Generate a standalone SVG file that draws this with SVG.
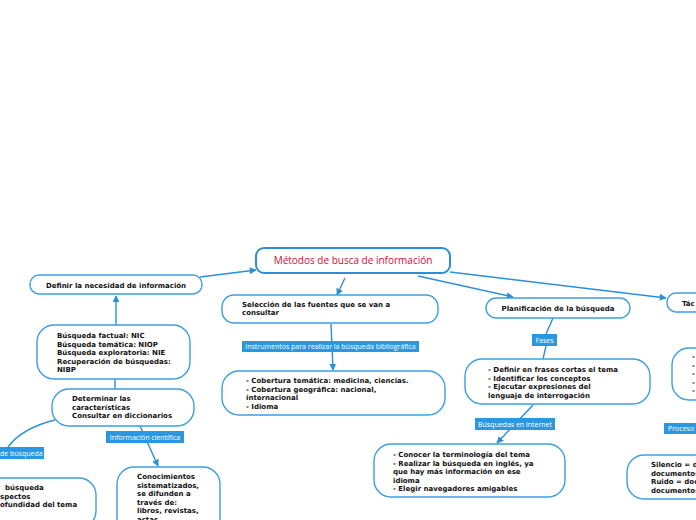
<svg xmlns="http://www.w3.org/2000/svg" width="696" height="520" viewBox="0 0 696 520">
<style>
.n{fill:#fff;stroke:#3d9ee2;stroke-width:1.4}
.c{fill:#fff;stroke:#2b8fd8;stroke-width:2}
.t{font-family:"DejaVu Sans",Verdana,sans-serif;font-weight:bold;font-size:7px;fill:#111}
.ti{font-family:"Open Sans","Noto Sans",sans-serif;font-size:10px;fill:#cc1133}
.lb{fill:#2b97e0}
.lt{font-family:"Open Sans","Noto Sans",sans-serif;font-size:7px;fill:#fff}
.e{fill:none;stroke:#2b8fd8;stroke-width:1.4}
</style>
<defs>
<marker id="ar" viewBox="0 0 10 10" refX="9" refY="5" markerWidth="7" markerHeight="7" orient="auto" markerUnits="userSpaceOnUse">
<path d="M0,0 L10,5 L0,10 z" fill="#2b8fd8"/>
</marker>
</defs>
<rect width="696" height="520" fill="#fff"/>
<g id="connectors">
<path class="e" d="M200,277 L256,270" marker-end="url(#ar)"/>
<path class="e" d="M116,325 L116,296" marker-end="url(#ar)"/>
<path class="e" d="M115,379 L115,389"/>
<path class="e" d="M345,278 L337,295" marker-end="url(#ar)"/>
<path class="e" d="M331,324 L333,370" marker-end="url(#ar)"/>
<path class="e" d="M418,276 L513,297" marker-end="url(#ar)"/>
<path class="e" d="M450,272 L666,298" marker-end="url(#ar)"/>
<path class="e" d="M553,318 L546,334 M546,346 L543,359"/>
<path class="e" d="M533,405 L497,443" marker-end="url(#ar)"/>
<path class="e" d="M55,420 Q22,428 8,447"/>
<path class="e" d="M140,426 L158,466" marker-end="url(#ar)"/>
</g>
<g id="central">
<rect class="c" x="256" y="248" width="194" height="25" rx="8"/>
<text class="ti" x="353" y="264" text-anchor="middle">Métodos de busca de información</text>
</g>
<g id="definir">
<rect class="n" x="30" y="275" width="172" height="19" rx="9"/>
<text class="t" x="116" y="287.5" text-anchor="middle">Definir la necesidad de información</text>
</g>
<g id="busqueda-factual">
<rect class="n" x="37" y="325" width="153" height="54" rx="17"/>
<text class="t"><tspan x="57" y="338">Búsqueda factual: NIC</tspan><tspan x="57" y="346.5">Búsqueda temática: NIOP</tspan><tspan x="57" y="355">Búsqueda exploratoria: NIE</tspan><tspan x="57" y="363.5">Recuperación de búsquedas:</tspan><tspan x="57" y="372">NIBP</tspan></text>
</g>
<g id="determinar">
<rect class="n" x="52" y="389" width="142" height="37" rx="17"/>
<text class="t"><tspan x="72" y="401">Determinar las</tspan><tspan x="72" y="409.5">características</tspan><tspan x="72" y="418">Consultar en diccionarios</tspan></text>
</g>
<g id="label-busqueda">
<rect class="lb" x="-2" y="447" width="46" height="12"/>
<text class="lt" x="0" y="455.5">de búsqueda</text>
</g>
<g id="label-cientifica">
<rect class="lb" x="106" y="431" width="78" height="12"/>
<text class="lt" x="145" y="439.5" text-anchor="middle">Información científica</text>
</g>
<g id="conocimientos">
<rect class="n" x="117" y="467" width="103" height="70" rx="17"/>
<text class="t"><tspan x="137" y="479">Conocimientos</tspan><tspan x="137" y="487.5">sistematizados,</tspan><tspan x="137" y="496">se difunden a</tspan><tspan x="137" y="504.5">través de:</tspan><tspan x="137" y="513">libros, revistas,</tspan><tspan x="137" y="521.5">actas</tspan></text>
</g>
<g id="aspectos">
<rect class="n" x="-40" y="478" width="136" height="50" rx="17"/>
<text class="t"><tspan x="5" y="490">búsqueda</tspan><tspan x="0" y="498.5">spectos</tspan><tspan x="0" y="507">ofundidad del tema</tspan></text>
</g>
<g id="seleccion">
<rect class="n" x="222" y="295" width="216" height="28" rx="12"/>
<text class="t"><tspan x="242" y="306.5">Selección de las fuentes que se van a</tspan><tspan x="242" y="315">consultar</tspan></text>
</g>
<g id="label-instrumentos">
<rect class="lb" x="242" y="341" width="177" height="11"/>
<text class="lt" x="330.5" y="349" text-anchor="middle">Instrumentos para realizar la búsqueda bibliográfica</text>
</g>
<g id="cobertura">
<rect class="n" x="222" y="371" width="223" height="44" rx="17"/>
<text class="t"><tspan x="246" y="383">- Cobertura temática: medicina, ciencias.</tspan><tspan x="246" y="391.5">- Cobertura geográfica: nacional,</tspan><tspan x="246" y="400">internacional</tspan><tspan x="246" y="408.5">- Idioma</tspan></text>
</g>
<g id="planificacion">
<rect class="n" x="486" y="298" width="144" height="20" rx="10"/>
<text class="t" x="558" y="310.5" text-anchor="middle">Planificación de la búsqueda</text>
</g>
<g id="label-fases">
<rect class="lb" x="532" y="334" width="25" height="12"/>
<text class="lt" x="544.5" y="342.5" text-anchor="middle">Fases</text>
</g>
<g id="definir-frases">
<rect class="n" x="465" y="359" width="185" height="45" rx="17"/>
<text class="t"><tspan x="488" y="372">- Definir en frases cortas el tema</tspan><tspan x="488" y="380.5">- Identificar los conceptos</tspan><tspan x="488" y="389">- Ejecutar expresiones del</tspan><tspan x="488" y="397.5">lenguaje de interrogación</tspan></text>
</g>
<g id="label-internet">
<rect class="lb" x="475" y="418" width="80" height="12"/>
<text class="lt" x="515" y="426.5" text-anchor="middle">Búsquedas en internet</text>
</g>
<g id="conocer">
<rect class="n" x="374" y="444" width="191" height="53" rx="17"/>
<text class="t"><tspan x="393" y="457">- Conocer la terminología del tema</tspan><tspan x="393" y="465.5">- Realizar la búsqueda en inglés, ya</tspan><tspan x="393" y="474">que hay más información en ese</tspan><tspan x="393" y="482.5">idioma</tspan><tspan x="393" y="491">- Elegir navegadores amigables</tspan></text>
</g>
<g id="tecnicas">
<rect class="n" x="667" y="293" width="60" height="19" rx="9"/>
<text class="t" x="682" y="305.5">Tác</text>
</g>
<g id="right-list">
<rect class="n" x="672" y="348" width="60" height="52" rx="17"/>
<text class="t"><tspan x="692" y="359">-</tspan><tspan x="692" y="367.5">-</tspan><tspan x="692" y="376">-</tspan><tspan x="692" y="384.5">-</tspan><tspan x="692" y="393">-</tspan></text>
</g>
<g id="label-proceso">
<rect class="lb" x="664" y="423" width="40" height="11"/>
<text class="lt" x="668" y="431">Proceso d</text>
</g>
<g id="silencio">
<rect class="n" x="627" y="455" width="100" height="44" rx="17"/>
<text class="t"><tspan x="651" y="467">Silencio = d</tspan><tspan x="651" y="475.5">documentos</tspan><tspan x="651" y="484">Ruido = doc</tspan><tspan x="651" y="492.5">documentos</tspan></text>
</g>
</svg>
